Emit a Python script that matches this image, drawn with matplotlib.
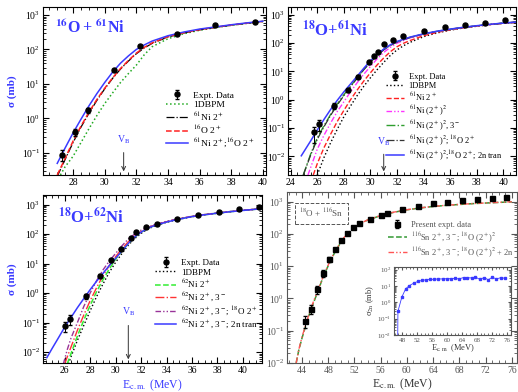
import numpy as np
import matplotlib.pyplot as plt
from matplotlib.ticker import LogLocator, MultipleLocator, NullFormatter

plt.rcParams['font.family'] = ['Liberation Serif', 'DejaVu Serif']
plt.rcParams['mathtext.fontset'] = 'stix'
plt.rcParams['font.size'] = 7

BLUE = '#3a3aff'
DDOT = (0, (4, 1.5, 1, 1.5, 1, 1.5))

# ---------------- 16O + 61Ni ----------------
tl_exp_e = [27.3, 28.15, 28.95, 30.6, 32.25, 34.6, 37.0, 39.5]
tl_exp_s = [0.09, 0.4, 1.75, 25, 125, 290, 520, 640]
tl_exp_err = [0.03, 0.08, 0.3, 2, 8, 15, 25, 30]

tl_e = [27.0, 27.5, 28.0, 28.5, 29.0, 29.5, 30.0, 30.5, 31.0, 31.5, 32.0, 32.5, 33.0, 34.0, 35.0, 36.0, 37.0, 38.0, 39.0, 40.0]
tl_blue = [0.05, 0.14, 0.38, 0.95, 2.3, 5.2, 11, 22, 40, 65, 100, 135, 175, 250, 320, 390, 450, 520, 590, 660]
tl_red = [0.023, 0.07, 0.22, 0.6, 1.5, 3.5, 7.5, 15, 28, 48, 78, 115, 155, 235, 305, 375, 440, 510, 580, 650]
tl_black = [0.021, 0.065, 0.2, 0.56, 1.4, 3.3, 7.2, 14.5, 27, 46, 75, 110, 150, 230, 300, 370, 436, 505, 575, 648]
tl_green_e = [27.2, 27.5, 28.0, 28.5, 29.0, 29.5, 30.0, 30.5, 31.0, 31.5, 32.0, 32.5, 33.0, 34.0, 35.0, 36.0, 37.0, 38.0, 39.0, 40.0]
tl_green = [0.023, 0.04, 0.08, 0.2, 0.5, 1.2, 2.7, 5.5, 11, 20, 35, 70, 120, 205, 285, 360, 430, 500, 570, 645]

# ---------------- 18O + 61Ni ----------------
tr_exp_e = [25.75, 26.1, 27.25, 28.35, 29.1, 29.9, 30.3, 30.6, 31.0, 31.7, 32.45, 34.0, 35.6, 37.1, 38.6, 40.1]
tr_exp_s = [0.07, 0.14, 0.62, 2.2, 6.5, 21, 36, 48, 90, 130, 180, 270, 370, 440, 500, 670]
tr_exp_err = [0.04, 0.06, 0.15, 0.3, 0.8, 2, 3, 4, 6, 8, 10, 15, 18, 20, 25, 30]

tr_blue_e = [24.8, 25.5, 26.0, 26.5, 27.0, 27.5, 28.0, 28.5, 29.0, 29.5, 30.0, 30.5, 31.0, 31.5, 32.0, 33.0, 34.0, 35.0, 36.0, 37.0, 38.0, 39.0, 40.0, 41.0]
tr_blue = [0.0105, 0.035, 0.085, 0.2, 0.45, 0.95, 1.9, 3.6, 6.8, 13, 24, 40, 62, 88, 115, 165, 215, 265, 315, 365, 415, 465, 515, 560]
tr_green_e = [24.95, 25.5, 26.0, 26.5, 27.0, 27.5, 28.0, 28.5, 29.0, 29.5, 30.0, 30.5, 31.0, 31.5, 32.0, 33.0, 34.0, 35.0, 36.0, 37.0, 38.0, 39.0, 40.0, 41.0]
tr_green = [0.0022, 0.012, 0.045, 0.12, 0.3, 0.7, 1.5, 3.0, 6.0, 12, 22, 38, 60, 85, 112, 162, 212, 262, 312, 362, 412, 462, 512, 558]
tr_black = [0.0022, 0.011, 0.04, 0.11, 0.28, 0.65, 1.4, 2.9, 5.8, 11.5, 21, 37, 58, 83, 110, 160, 210, 260, 310, 360, 410, 460, 510, 556]
tr_mag_e = [25.3, 25.5, 26.0, 26.5, 27.0, 27.5, 28.0, 28.5, 29.0, 29.5, 30.0, 30.5, 31.0, 31.5, 32.0, 33.0, 34.0, 35.0, 36.0, 37.0, 38.0, 39.0, 40.0, 41.0]
tr_mag = [0.0022, 0.004, 0.018, 0.055, 0.15, 0.38, 0.85, 1.9, 4.0, 8.0, 15, 28, 47, 72, 100, 155, 208, 258, 308, 358, 408, 458, 508, 555]
tr_red_e = [25.7, 26.0, 26.5, 27.0, 27.5, 28.0, 28.5, 29.0, 29.5, 30.0, 30.5, 31.0, 31.5, 32.0, 32.5, 33.0, 34.0, 35.0, 36.0, 37.0, 38.0, 39.0, 40.0, 41.0]
tr_red = [0.0022, 0.0055, 0.02, 0.06, 0.17, 0.42, 1.0, 2.2, 4.6, 9, 17, 30, 50, 75, 100, 125, 185, 240, 295, 350, 400, 455, 505, 550]
tr_dot_e = [26.0, 26.5, 27.0, 27.5, 28.0, 28.5, 29.0, 29.5, 30.0, 30.5, 31.0, 31.5, 32.0, 32.5, 33.0, 34.0, 35.0, 36.0, 37.0, 38.0, 39.0, 40.0, 41.0]
tr_dot = [0.0022, 0.009, 0.03, 0.09, 0.25, 0.6, 1.4, 3.0, 6.0, 11.5, 21, 37, 58, 82, 108, 170, 230, 290, 345, 398, 452, 503, 548]

# ---------------- 18O + 62Ni ----------------
bl_exp_e = [26.0, 26.4, 27.65, 28.8, 29.65, 30.45, 31.25, 31.6, 32.4, 33.25, 34.85, 36.45, 38.1, 39.7, 41.3]
bl_exp_s = [0.077, 0.135, 0.8, 3.9, 13, 32, 72, 115, 170, 220, 320, 450, 560, 700, 850]
bl_exp_err = [0.03, 0.05, 0.15, 0.4, 1.5, 3, 5, 8, 10, 12, 15, 20, 25, 30, 35]

bl_blue_e = [24.6, 25.0, 25.5, 26.0, 26.5, 27.0, 27.5, 28.0, 28.5, 29.0, 29.5, 30.0, 30.5, 31.0, 31.5, 32.0, 32.5, 33.0, 34.0, 35.0, 36.0, 37.0, 38.0, 39.0, 40.0, 41.0, 41.5]
bl_blue = [0.0065, 0.013, 0.03, 0.07, 0.15, 0.32, 0.65, 1.3, 2.5, 4.6, 8.5, 15, 27, 48, 80, 115, 155, 190, 255, 320, 390, 450, 510, 570, 630, 690, 720]
bl_pur_e = [25.9, 26.2, 26.5, 27.0, 27.5, 28.0, 28.5, 29.0, 29.5, 30.0, 30.5, 31.0, 31.5, 32.0, 32.5, 33.0, 34.0, 35.0, 36.0, 37.0, 38.0, 39.0, 40.0, 41.0, 41.5]
bl_pur = [0.004, 0.012, 0.03, 0.1, 0.35, 1.0, 2.6, 6, 12, 22, 40, 68, 100, 135, 170, 205, 270, 335, 400, 460, 520, 580, 640, 700, 730]
bl_red_e = [26.0, 26.5, 27.0, 27.5, 28.0, 28.5, 29.0, 29.5, 30.0, 30.5, 31.0, 31.5, 32.0, 32.5, 33.0, 34.0, 35.0, 36.0, 37.0, 38.0, 39.0, 40.0, 41.0, 41.5]
bl_red = [0.004, 0.015, 0.055, 0.18, 0.55, 1.5, 3.8, 8.5, 17, 32, 55, 85, 120, 160, 195, 262, 328, 395, 455, 515, 575, 635, 695, 725]
bl_grn_e = [26.2, 26.5, 27.0, 27.5, 28.0, 28.5, 29.0, 29.5, 30.0, 30.5, 31.0, 31.5, 32.0, 32.5, 33.0, 34.0, 35.0, 36.0, 37.0, 38.0, 39.0, 40.0, 41.0, 41.5]
bl_grn = [0.004, 0.009, 0.035, 0.12, 0.38, 1.1, 2.8, 6.5, 14, 27, 48, 78, 115, 155, 190, 258, 325, 392, 452, 512, 572, 632, 692, 722]
bl_dot_e = [26.3, 26.5, 27.0, 27.5, 28.0, 28.5, 29.0, 29.5, 30.0, 30.5, 31.0, 31.5, 32.0, 32.5, 33.0, 34.0, 35.0, 36.0, 37.0, 38.0, 39.0, 40.0, 41.0, 41.5]
bl_dot = [0.004, 0.007, 0.025, 0.08, 0.25, 0.75, 2.0, 5.0, 11, 22, 42, 70, 105, 145, 182, 250, 318, 385, 448, 508, 568, 628, 688, 718]

# ---------------- 18O + 116Sn ----------------
br_exp_e = [44.5, 45.4, 46.3, 47.2, 48.1, 49.05, 49.95, 50.9, 51.8, 52.7, 54.4, 56.1, 57.0, 59.3, 61.7, 64.0, 66.1, 68.4, 70.7, 73.0, 75.1]
br_exp_s = [0.2, 0.47, 1.9, 6, 17, 34, 65, 110, 160, 215, 290, 390, 460, 590, 750, 890, 1000, 1120, 1180, 1270, 1360]
br_exp_err = [0.08, 0.15, 0.5, 1.5, 3, 4, 6, 8, 10, 12, 15, 20, 25, 30, 35, 40, 45, 50, 55, 60, 65]

br_e = [43.1, 43.5, 44.0, 44.5, 45.0, 45.5, 46.0, 46.5, 47.0, 47.5, 48.0, 48.5, 49.0, 49.5, 50.0, 50.5, 51.0, 52.0, 53.0, 54.0, 56.0, 58.0, 60.0, 62.0, 64.0, 66.0, 68.0, 70.0, 72.0, 74.0, 76.0]
br_green = [0.01, 0.025, 0.06, 0.13, 0.28, 0.55, 1.0, 1.9, 3.5, 6.2, 10.5, 17, 27, 40, 58, 80, 105, 160, 215, 270, 370, 470, 560, 640, 710, 770, 820, 870, 910, 950, 990]
br_red = [0.01, 0.026, 0.065, 0.14, 0.3, 0.6, 1.1, 2.0, 3.7, 6.5, 11, 18, 28, 41, 60, 82, 107, 163, 218, 273, 375, 475, 565, 645, 715, 775, 825, 875, 915, 955, 995]

# 2n transfer (inset)
in_e = [46.85, 47.9, 48.9, 49.9, 51.1, 52.2, 53.3, 54.4, 55.5, 56.6, 57.7, 58.8, 59.9, 61.0, 62.1, 63.2, 64.4, 65.4, 66.6, 67.6, 68.8, 69.9, 71.0, 72.1, 73.2, 74.3, 75.4]
in_s = [0.28, 2.1, 6.6, 10.5, 15, 19, 22, 24, 25, 26, 27, 27, 28, 28, 29, 27, 33, 32, 31, 35, 25, 33, 24, 34, 27, 32, 30]
in_line_e = [46.8] + in_e
in_line_s = [0.01] + in_s


def style(ax, xlim, ylim, xmaj, xmin, col='k', size=7):
    ax.set_yscale('log')
    ax.set_xlim(*xlim)
    ax.set_ylim(*ylim)
    ax.xaxis.set_major_locator(MultipleLocator(xmaj))
    ax.xaxis.set_minor_locator(MultipleLocator(xmin))
    ax.yaxis.set_major_locator(LogLocator(base=10, numticks=12))
    ax.yaxis.set_minor_locator(LogLocator(base=10, subs=np.arange(2, 10), numticks=30))
    ax.yaxis.set_minor_formatter(NullFormatter())
    ax.tick_params(which='both', direction='in', top=True, right=True,
                   colors=col, labelsize=size, pad=2)
    ax.tick_params(which='major', length=4)
    ax.tick_params(which='minor', length=2)
    for s in ax.spines.values():
        s.set_color(col)


def vb(ax, e, ytxt, ytop):
    ax.annotate('', xy=(e, 0.005), xytext=(e, ytop),
                xycoords=('data', 'axes fraction'), textcoords=('data', 'axes fraction'),
                arrowprops=dict(arrowstyle='->', color='#333333', lw=0.7))
    ax.text(e, ytxt, r'V$_\mathrm{B}$', transform=ax.get_xaxis_transform(),
            ha='center', va='bottom', color=BLUE, fontsize=7)


def legend(ax, anchor, size, **kw):
    h, l = ax.get_legend_handles_labels()
    h = h[-1:] + h[:-1]
    l = l[-1:] + l[:-1]
    opts = dict(frameon=False, fontsize=size, handlelength=2.4, handletextpad=0.5,
                labelspacing=0.12, borderaxespad=0, borderpad=0)
    opts.update(kw)
    ax.legend(h, l, loc='upper left', bbox_to_anchor=anchor, **opts)


fig = plt.figure(figsize=(5.18, 3.92), dpi=100)
W, H = 518.0, 392.0


def box(x0, y0, x1, y1):
    return [x0 / W, 1 - y1 / H, (x1 - x0) / W, (y1 - y0) / H]


eb = dict(color='k', ms=3.6, elinewidth=0.7, capsize=1.5)

# ----- top left
ax = fig.add_axes(box(43, 7, 266, 175))
ax.plot(tl_green_e, tl_green, ':', color='#22aa22', lw=1.1, label='1DBPM')
ax.plot(tl_e, tl_black, '-.', color='k', lw=0.9, label=r'$^{61}$Ni 2$^+$')
ax.plot(tl_e, tl_red, '--', color='#ff2020', lw=1.1, label=r'$^{16}$O 2$^+$')
ax.plot(tl_e, tl_blue, '-', color=BLUE, lw=1.1, label=r'$^{61}$Ni 2$^+$;$^{16}$O 2$^+$')
ax.errorbar(tl_exp_e, tl_exp_s, yerr=tl_exp_err, fmt='o', label='Expt. Data', **eb)
style(ax, (26.1, 40.2), (0.023, 1700), 2, 0.5)
legend(ax, (0.55, 0.5), 6.8)
ax.text(0.055, 0.88, '$^{\\mathbf{16}}$O\u2009+\u2009$^{\\mathbf{61}}$Ni', transform=ax.transAxes,
        color=BLUE, fontsize=11.5, fontweight='bold', va='center')
ax.set_ylabel('σ (mb)', color=BLUE, fontsize=8, fontweight='bold', labelpad=3)
vb(ax, 31.2, 0.17, 0.15)

# ----- top right
ax = fig.add_axes(box(288, 7, 516, 175))
ax.plot(tr_dot_e, tr_dot, ':', color='k', lw=1.0, label='1DBPM')
ax.plot(tr_red_e, tr_red, '--', color='#ff2020', lw=1.0, label=r'$^{61}$Ni 2$^+$')
ax.plot(tr_mag_e, tr_mag, linestyle=DDOT, color='#ff33ff', lw=1.0, label=r'$^{61}$Ni (2$^+$)$^2$')
ax.plot(tr_green_e, tr_green, '-.', color='#2e9e2e', lw=1.0, label=r'$^{61}$Ni (2$^+$)$^2$, 3$^-$')
ax.plot(tr_green_e, tr_black, '-.', color='#333333', lw=0.9, label=r'$^{61}$Ni (2$^+$)$^2$; $^{18}$O 2$^+$')
ax.plot(tr_blue_e, tr_blue, '-', color=BLUE, lw=1.1, label=r'$^{61}$Ni (2$^+$)$^2$;$^{18}$O 2$^+$; 2n tran')
ax.errorbar(tr_exp_e, tr_exp_s, yerr=tr_exp_err, fmt='o', label='Expt. Data', **eb)
style(ax, (23.8, 40.95), (0.0022, 1900), 2, 0.5)
legend(ax, (0.43, 0.61), 6.0, handlelength=2.2)
ax.text(0.06, 0.86, r'$^{\mathbf{18}}$O+$^{\mathbf{61}}$Ni', transform=ax.transAxes,
        color=BLUE, fontsize=12, fontweight='bold', va='center')
vb(ax, 31.0, 0.16, 0.14)

# ----- bottom left
ax = fig.add_axes(box(43, 195, 262, 363))
ax.plot(bl_dot_e, bl_dot, ':', color='k', lw=1.0, label='1DBPM')
ax.plot(bl_grn_e, bl_grn, '--', color='#33ee33', lw=1.1, label=r'$^{62}$Ni 2$^+$')
ax.plot(bl_red_e, bl_red, '-.', color='#ff3333', lw=1.0, label=r'$^{62}$Ni 2$^+$, 3$^-$')
ax.plot(bl_pur_e, bl_pur, linestyle=DDOT, color='#993399', lw=1.0, label=r'$^{62}$Ni 2$^+$, 3$^-$; $^{18}$O 2$^+$')
ax.plot(bl_blue_e, bl_blue, '-', color=BLUE, lw=1.1, label=r'$^{62}$Ni 2$^+$, 3$^-$; 2n tran')
ax.errorbar(bl_exp_e, bl_exp_s, yerr=bl_exp_err, fmt='o', label='Expt. Data', **eb)
style(ax, (24.3, 41.5), (0.0043, 2100), 2, 0.5)
legend(ax, (0.51, 0.62), 6.5)
ax.text(0.07, 0.87, r'$^{\mathbf{18}}$O+$^{\mathbf{62}}$Ni', transform=ax.transAxes,
        color=BLUE, fontsize=12, fontweight='bold', va='center')
ax.set_ylabel('σ (mb)', color=BLUE, fontsize=8, fontweight='bold', labelpad=3)
ax.set_xlabel(r'E$_\mathrm{c.m.}$ (MeV)', color=BLUE, fontsize=8.5, labelpad=2)
vb(ax, 31.0, 0.27, 0.24)

# ----- bottom right
GR = '#555555'
ax = fig.add_axes(box(287, 192, 517, 363))
ax.plot(br_e, br_green, '--', color='#339933', lw=1.1, label=r'$^{116}$Sn 2$^+$, 3$^-$; $^{18}$O (2$^+$)$^2$')
ax.plot(br_e, br_red, linestyle=DDOT, color='#ff5555', lw=1.0, label=r'$^{116}$Sn 2$^+$, 3$^-$; $^{18}$O (2$^+$)$^2$ + 2n')
ax.errorbar(br_exp_e, br_exp_s, yerr=br_exp_err, fmt='s', label='Present expt. data', **eb)
style(ax, (41.7, 76.8), (0.01, 2000), 4, 1, col=GR)
legend(ax, (0.44, 0.83), 6.0, labelcolor=GR, handlelength=2.2)
ax.text(0.15, 0.875, r'$^{18}$O + $^{116}$Sn', transform=ax.transAxes, ha='center', va='center',
        fontsize=6.5, color=GR,
        bbox=dict(boxstyle='square,pad=0.5', fc='none', ec=GR, ls='--', lw=0.7))
ax.set_xlabel(r'E$_\mathrm{c.m.}$ (MeV)', color='#333333', fontsize=8.5, labelpad=1)

# inset
ins = fig.add_axes(box(394, 267, 511, 335))
ins.plot(in_line_e, in_line_s, '-', color=BLUE, lw=0.6)
ins.plot(in_e, in_s, 's', color=BLUE, ms=1.8)
style(ins, (45.8, 77.1), (0.01, 145), 4, 1, col=GR, size=5)
ins.tick_params(which='major', length=2.5)
ins.tick_params(which='minor', length=1.3)
ins.set_ylabel(r'σ$_\mathrm{2n}$ (mb)', fontsize=6, color='#333333', labelpad=1)
ins.set_xlabel(r'E$_\mathrm{c.m.}$ (MeV)', fontsize=6, color='#333333', labelpad=0)

fig.savefig('out.png', dpi=100)
